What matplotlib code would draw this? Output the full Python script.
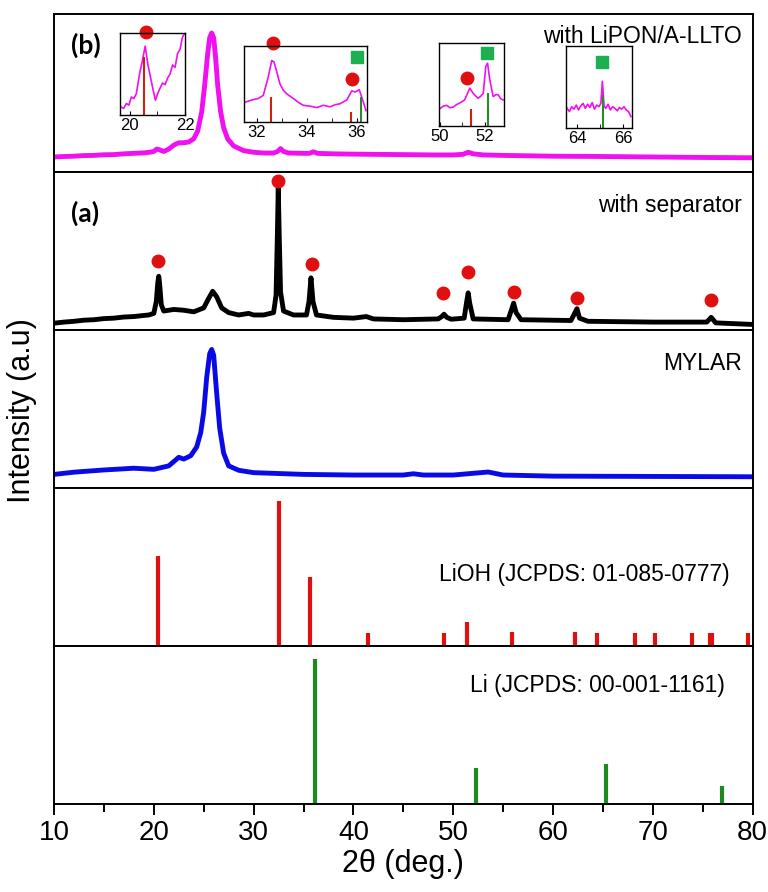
import matplotlib
matplotlib.use("Agg")
import matplotlib.pyplot as plt
import numpy as np

plt.rcParams['font.family'] = ['Liberation Sans', 'DejaVu Sans']

# ---- (b) with LiPON/A-LLTO, full scan ----
b_x = [10, 11, 12, 13, 14, 15, 16, 17, 18, 19, 19.6, 20.0, 20.3, 20.6, 21.0, 21.5, 22.0, 22.5, 23.0, 23.5,
       24.0, 24.4, 24.8, 25.1, 25.4, 25.6, 25.8, 26.0, 26.2, 26.4, 26.7, 27.0, 27.4, 28.0,
       29.0, 30.0, 31.0, 32.0, 32.4, 32.7, 33.0, 33.5, 35.0, 35.6, 36.0, 36.4, 38, 40, 45,
       48, 50, 51.0, 51.5, 52.0, 53, 55, 60, 65, 70, 75, 80]
b_y = [9.5, 9.8, 10.0, 10.4, 10.5, 10.9, 11.0, 11.5, 11.8, 12.1, 12.5, 13.0, 14.5, 14.0, 13.0, 14.5, 17.0, 18.5, 18.5, 19.0,
       21.0, 26, 38, 55, 75, 85, 88, 85, 72, 55, 38, 28, 21, 16.5,
       13.5, 12.5, 12.0, 12.0, 13.0, 14.8, 13.0, 12.0, 11.8, 11.8, 12.8, 11.8, 11.5, 11.3, 11.0,
       10.8, 10.8, 11.2, 12.5, 11.5, 10.8, 10.5, 10.0, 9.8, 9.5, 9.2, 9.0]

# zoomed windows of the (b) scan
z1_x = [19.67, 19.78, 19.88, 19.97, 20.06, 20.15, 20.24, 20.36, 20.45, 20.56, 20.65, 20.77,
        20.85, 20.93, 21.01, 21.1, 21.19, 21.28, 21.37, 21.46, 21.55, 21.64, 21.73, 21.82, 21.9, 21.98]
z1_y = [10, 8, 14, 12, 22, 20, 26, 51, 65, 84, 63, 43, 30, 18, 26, 33, 39, 37, 45, 50, 61, 58, 75, 80, 94, 100]
z1_red = [20.5]
z1_red_h = [71]

z2_x = [31.52, 31.7, 31.85, 32.05, 32.25, 32.45, 32.59, 32.68, 32.79, 32.92, 33.05, 33.19,
        33.45, 33.65, 33.85, 34.1, 34.39, 34.65, 34.92, 35.15, 35.32, 35.59, 35.79, 35.92,
        36.09, 36.23, 36.36]
z2_y = [26, 28, 29.5, 31, 35, 59, 81, 79, 66, 50, 42, 37, 31, 26, 22, 21, 19, 22, 20, 23,
        24, 29, 41, 39.5, 42.5, 28.5, 15]
z2_red = [32.55, 35.75]
z2_red_h = [33, 13]
z2_green = [36.15]
z2_green_h = [33]

z3_x = [50.0, 50.15, 50.3, 50.45, 50.6, 50.75, 50.9, 51.1, 51.33, 51.48, 51.6, 51.7, 51.82,
        51.93, 52.04, 52.12, 52.22, 52.37, 52.5, 52.6, 52.7, 52.81]
z3_y = [21, 24, 25, 22, 23, 26, 28, 31.5, 45.6, 39.5, 36, 33.5, 36, 39.5, 71.8, 75.8, 55.6,
        35.5, 38, 37.5, 33, 31.5]
z3_red = [51.4]
z3_red_h = [21]
z3_green = [52.15]
z3_green_h = [39.5]

z4_x = [63.55, 63.65, 63.75, 63.85, 63.95, 64.05, 64.15, 64.25, 64.35, 64.45, 64.55, 64.65,
        64.75, 64.85, 64.95, 65.03, 65.1, 65.17, 65.25, 65.35, 65.45, 65.55, 65.65, 65.75,
        65.85, 65.95, 66.05, 66.15, 66.25, 66.35]
z4_y = [24, 20, 26, 23, 28, 22, 27, 30, 24, 29, 25, 31, 23, 28, 26, 30, 57, 27, 24, 29, 22,
        26, 24, 21, 25, 23, 26, 22, 20, 14]
z4_green = [65.12]
z4_green_h = [40]

# ---- (a) with separator ----
a_x = [10.0, 11, 12, 13, 14, 15, 16, 17, 18, 19, 19.5, 20.0, 20.25, 20.4, 20.5, 20.6, 20.75, 21.0, 22, 23, 24,
       25, 25.5, 25.9, 26.3, 26.8, 27.5, 28.5, 29.5, 30, 31, 32.0, 32.25, 32.38, 32.47, 32.56,
       32.7, 33.0, 34, 35.3, 35.55, 35.75, 35.95, 36.3, 38, 40, 41.3, 42, 45, 48.5, 48.85,
       49.08, 49.35, 49.8, 51.1, 51.35, 51.5, 51.65, 52.0, 55.5, 55.85, 56.05, 56.3, 56.8,
       61.8, 62.2, 62.4, 62.65, 63.5, 70, 75.4, 75.85, 76.3, 80]
a_y = [4.3, 5.0, 5.5, 6.2, 6.5, 7.2, 7.5, 8.2, 8.5, 9.2, 9.5, 10.5, 18, 30, 34, 28, 16, 12, 13, 12.5, 11.5,
       14, 20, 24.5, 21, 14, 11, 9.5, 10.5, 9.5, 9.5, 11, 22, 60, 90, 62,
       24, 12, 9.5, 9.5, 18, 33, 18, 9.5, 8, 7.5, 8.5, 7, 6.5, 7, 8.5,
       10, 8, 6.8, 7.5, 18, 23.5, 17, 7, 6.5, 13, 17, 11, 6.5,
       6, 11, 13.5, 7.5, 5.5, 5, 5, 8, 4.5, 3.5]
a_dot_x = [20.47, 32.47, 35.85, 49.0, 51.45, 56.1, 62.45, 75.85]
a_dot_y = [43.7, 94, 42, 23.7, 37, 24, 20.4, 19]

# ---- MYLAR ----
m_x = [10, 12, 15, 18, 20, 21.5, 22.5, 23.0, 23.7, 24.3, 24.7, 25.0, 25.3, 25.6, 25.8, 26.0,
       26.3, 26.6, 27.0, 27.5, 28.5, 30, 35, 40, 45, 46, 47, 50, 53.5, 55, 60, 70, 80]
m_y = [8.6, 10.0, 11.4, 12.5, 11.8, 14, 19.4, 18.3, 20.4, 26, 35, 48, 70, 85, 87.7, 84,
       60, 38, 22, 14, 11.2, 9.7, 8.6, 8.2, 8.2, 9.0, 8.2, 8.2, 10.1, 8.2, 7.5, 7.3, 7.1]

# ---- reference patterns ----
lioh_pos = [20.38, 32.52, 35.65, 41.5, 49.1, 51.4, 55.9, 62.2, 64.4, 68.2, 70.2, 73.9, 75.7, 75.9, 79.5]
lioh_int = [56.7, 91.5, 43.6, 8.5, 8.5, 15, 8.7, 9.1, 8.5, 8.5, 8.5, 8.5, 8.5, 8.5, 8.5]
li_pos = [36.15, 52.28, 65.26, 76.9]
li_int = [91.6, 22.7, 25.5, 11.2]

MAGENTA = '#F010F0'
RED = '#E01010'
GREEN = '#1E8A1E'
SQ_GREEN = '#1CB050'

fig, axes = plt.subplots(5, 1, figsize=(7.68, 8.92), dpi=100, sharex=True)
fig.subplots_adjust(left=0.0703, right=0.980, top=0.9843, bottom=0.0987, hspace=0)

for ax in axes:
    ax.set_xlim(10, 80)
    ax.set_ylim(0, 100)
    ax.set_yticks([])
    for s in ax.spines.values():
        s.set_linewidth(1.4)
    ax.tick_params(axis='x', which='both', length=0)

ax_b, ax_a, ax_m, ax_lioh, ax_li = axes

ax_b.plot(b_x, b_y, color=MAGENTA, lw=3.5)
ax_b.text(0.985, 0.93, 'with LiPON/A-LLTO', transform=ax_b.transAxes, ha='right', va='top', fontsize=16.5)
ax_b.text(0.025, 0.80, '(b)', transform=ax_b.transAxes, ha='left', va='center', fontsize=19,
          fontweight='bold', family=['Lato', 'DejaVu Sans'])

ax_a.plot(a_x, a_y, color='black', lw=3.5)
ax_a.plot(a_dot_x, a_dot_y, 'o', color=RED, ms=9, ls='none')
ax_a.text(0.985, 0.86, 'with separator', transform=ax_a.transAxes, ha='right', va='top', fontsize=16.5)
ax_a.text(0.025, 0.74, '(a)', transform=ax_a.transAxes, ha='left', va='center', fontsize=19,
          fontweight='bold', family=['Lato', 'DejaVu Sans'])

ax_m.plot(m_x, m_y, color='#0A0AE6', lw=3.5)
ax_m.text(0.985, 0.86, 'MYLAR', transform=ax_m.transAxes, ha='right', va='top', fontsize=16.5)

ax_lioh.vlines(lioh_pos, 0, lioh_int, color=RED, lw=3)
ax_lioh.text(0.967, 0.45, 'LiOH (JCPDS: 01-085-0777)', transform=ax_lioh.transAxes, ha='right',
             va='center', fontsize=16.5)

ax_li.vlines(li_pos, 0, li_int, color=GREEN, lw=3)
ax_li.text(0.96, 0.75, 'Li (JCPDS: 00-001-1161)', transform=ax_li.transAxes, ha='right',
           va='center', fontsize=16.5)

ax_li.set_xticks(np.arange(10, 81, 10))
ax_li.set_xticks(np.arange(15, 80, 10), minor=True)
ax_li.tick_params(axis='x', which='major', direction='out', length=8, width=1.4, labelsize=20)
ax_li.tick_params(axis='x', which='minor', direction='out', length=6, width=1.4)
ax_li.set_xlabel('2\u03b8 (deg.)', fontsize=22, labelpad=2)
fig.text(0.028, 0.54, 'Intensity (a.u)', rotation=90, ha='center', va='center', fontsize=22)

# insets over panel (b)
insets = [
    ([0.1563, 0.8711, 0.0846, 0.0919], (19.65, 22.0), [20, 22], z1_x, z1_y,
     z1_red, z1_red_h, [], [], [(20.6, 101, 'o')]),
    ([0.3177, 0.8632, 0.1602, 0.0852], (31.48, 36.4), [32, 34, 36], z2_x, z2_y,
     z2_red, z2_red_h, z2_green, z2_green_h, [(32.64, 104, 'o'), (35.8, 56, 'o'), (36.0, 86, 's')]),
    ([0.5716, 0.8587, 0.0846, 0.0930], (49.96, 52.85), [50, 52], z3_x, z3_y,
     z3_red, z3_red_h, z3_green, z3_green_h, [(51.2, 58, 'o'), (52.1, 88, 's')]),
    ([0.7370, 0.8565, 0.0859, 0.0919], (63.5, 66.4), [64, 66], z4_x, z4_y,
     [], [], z4_green, z4_green_h, [(65.1, 81, 's')]),
]
for rect, xl, ticks, zx, zy, rx, rh, gx, gh, marks in insets:
    ins = fig.add_axes(rect)
    ins.plot(zx, zy, color=MAGENTA, lw=1.2)
    if rx:
        ins.vlines(rx, 0, rh, color='#D02010', lw=1.5)
    if gx:
        ins.vlines(gx, 0, gh, color='#2A8A2A', lw=1.5)
    for mx, my, mk in marks:
        c = RED if mk == 'o' else SQ_GREEN
        ins.plot([mx], [my], marker=mk, color=c, ms=9, ls='none', clip_on=False)
    ins.set_xlim(*xl)
    ins.set_ylim(0, 100)
    ins.set_yticks([])
    ins.set_xticks(ticks)
    ins.set_xticks(np.arange(np.ceil(xl[0]), xl[1], 1), minor=True)
    ins.tick_params(axis='x', which='both', direction='in', length=3, labelsize=12, pad=2)
    for s in ins.spines.values():
        s.set_linewidth(1.0)

fig.savefig('out.png', dpi=100)
